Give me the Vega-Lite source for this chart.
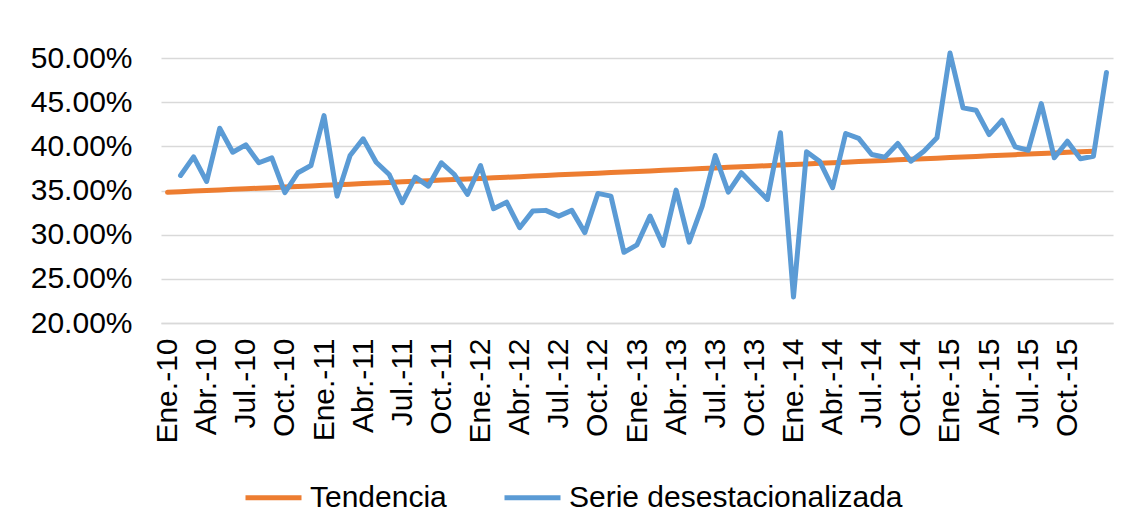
{
  "$schema": "https://vega.github.io/schema/vega-lite/v6.json",
  "width": 952,
  "height": 265,
  "autosize": {"type": "none"},
  "padding": {"left": 161, "top": 58, "right": 21, "bottom": 208},
  "background": "white",
  "datasets": {
    "tendencia": [
      {"m": "Ene.-10", "s": "Tendencia", "v": 0.3480}, {"m": "Feb.-10", "s": "Tendencia", "v": 0.3487}, {"m": "Mar.-10", "s": "Tendencia", "v": 0.3493},
      {"m": "Abr.-10", "s": "Tendencia", "v": 0.3500}, {"m": "May.-10", "s": "Tendencia", "v": 0.3506}, {"m": "Jun.-10", "s": "Tendencia", "v": 0.3513},
      {"m": "Jul.-10", "s": "Tendencia", "v": 0.3519}, {"m": "Ago.-10", "s": "Tendencia", "v": 0.3526}, {"m": "Sep.-10", "s": "Tendencia", "v": 0.3532},
      {"m": "Oct.-10", "s": "Tendencia", "v": 0.3539}, {"m": "Nov.-10", "s": "Tendencia", "v": 0.3546}, {"m": "Dic.-10", "s": "Tendencia", "v": 0.3552},
      {"m": "Ene.-11", "s": "Tendencia", "v": 0.3559}, {"m": "Feb.-11", "s": "Tendencia", "v": 0.3565}, {"m": "Mar.-11", "s": "Tendencia", "v": 0.3572},
      {"m": "Abr.-11", "s": "Tendencia", "v": 0.3578}, {"m": "May.-11", "s": "Tendencia", "v": 0.3585}, {"m": "Jun.-11", "s": "Tendencia", "v": 0.3591},
      {"m": "Jul.-11", "s": "Tendencia", "v": 0.3598}, {"m": "Ago.-11", "s": "Tendencia", "v": 0.3604}, {"m": "Sep.-11", "s": "Tendencia", "v": 0.3611},
      {"m": "Oct.-11", "s": "Tendencia", "v": 0.3618}, {"m": "Nov.-11", "s": "Tendencia", "v": 0.3624}, {"m": "Dic.-11", "s": "Tendencia", "v": 0.3631},
      {"m": "Ene.-12", "s": "Tendencia", "v": 0.3637}, {"m": "Feb.-12", "s": "Tendencia", "v": 0.3644}, {"m": "Mar.-12", "s": "Tendencia", "v": 0.3650},
      {"m": "Abr.-12", "s": "Tendencia", "v": 0.3657}, {"m": "May.-12", "s": "Tendencia", "v": 0.3663}, {"m": "Jun.-12", "s": "Tendencia", "v": 0.3670},
      {"m": "Jul.-12", "s": "Tendencia", "v": 0.3677}, {"m": "Ago.-12", "s": "Tendencia", "v": 0.3683}, {"m": "Sep.-12", "s": "Tendencia", "v": 0.3690},
      {"m": "Oct.-12", "s": "Tendencia", "v": 0.3696}, {"m": "Nov.-12", "s": "Tendencia", "v": 0.3703}, {"m": "Dic.-12", "s": "Tendencia", "v": 0.3709},
      {"m": "Ene.-13", "s": "Tendencia", "v": 0.3716}, {"m": "Feb.-13", "s": "Tendencia", "v": 0.3722}, {"m": "Mar.-13", "s": "Tendencia", "v": 0.3729},
      {"m": "Abr.-13", "s": "Tendencia", "v": 0.3735}, {"m": "May.-13", "s": "Tendencia", "v": 0.3742}, {"m": "Jun.-13", "s": "Tendencia", "v": 0.3749},
      {"m": "Jul.-13", "s": "Tendencia", "v": 0.3755}, {"m": "Ago.-13", "s": "Tendencia", "v": 0.3762}, {"m": "Sep.-13", "s": "Tendencia", "v": 0.3768},
      {"m": "Oct.-13", "s": "Tendencia", "v": 0.3775}, {"m": "Nov.-13", "s": "Tendencia", "v": 0.3781}, {"m": "Dic.-13", "s": "Tendencia", "v": 0.3788},
      {"m": "Ene.-14", "s": "Tendencia", "v": 0.3794}, {"m": "Feb.-14", "s": "Tendencia", "v": 0.3801}, {"m": "Mar.-14", "s": "Tendencia", "v": 0.3808},
      {"m": "Abr.-14", "s": "Tendencia", "v": 0.3814}, {"m": "May.-14", "s": "Tendencia", "v": 0.3821}, {"m": "Jun.-14", "s": "Tendencia", "v": 0.3827},
      {"m": "Jul.-14", "s": "Tendencia", "v": 0.3834}, {"m": "Ago.-14", "s": "Tendencia", "v": 0.3840}, {"m": "Sep.-14", "s": "Tendencia", "v": 0.3847},
      {"m": "Oct.-14", "s": "Tendencia", "v": 0.3853}, {"m": "Nov.-14", "s": "Tendencia", "v": 0.3860}, {"m": "Dic.-14", "s": "Tendencia", "v": 0.3866},
      {"m": "Ene.-15", "s": "Tendencia", "v": 0.3873}, {"m": "Feb.-15", "s": "Tendencia", "v": 0.3880}, {"m": "Mar.-15", "s": "Tendencia", "v": 0.3886},
      {"m": "Abr.-15", "s": "Tendencia", "v": 0.3893}, {"m": "May.-15", "s": "Tendencia", "v": 0.3899}, {"m": "Jun.-15", "s": "Tendencia", "v": 0.3906},
      {"m": "Jul.-15", "s": "Tendencia", "v": 0.3912}, {"m": "Ago.-15", "s": "Tendencia", "v": 0.3919}, {"m": "Sep.-15", "s": "Tendencia", "v": 0.3925},
      {"m": "Oct.-15", "s": "Tendencia", "v": 0.3932}, {"m": "Nov.-15", "s": "Tendencia", "v": 0.3939}, {"m": "Dic.-15", "s": "Tendencia", "v": 0.3945}
    ],
    "serie": [
      {"m": "Feb.-10", "s": "Serie desestacionalizada", "v": 0.3670}, {"m": "Mar.-10", "s": "Serie desestacionalizada", "v": 0.3881},
      {"m": "Abr.-10", "s": "Serie desestacionalizada", "v": 0.3602}, {"m": "May.-10", "s": "Serie desestacionalizada", "v": 0.4205},
      {"m": "Jun.-10", "s": "Serie desestacionalizada", "v": 0.3933}, {"m": "Jul.-10", "s": "Serie desestacionalizada", "v": 0.4017},
      {"m": "Ago.-10", "s": "Serie desestacionalizada", "v": 0.3814}, {"m": "Sep.-10", "s": "Serie desestacionalizada", "v": 0.3870},
      {"m": "Oct.-10", "s": "Serie desestacionalizada", "v": 0.3475}, {"m": "Nov.-10", "s": "Serie desestacionalizada", "v": 0.3701},
      {"m": "Dic.-10", "s": "Serie desestacionalizada", "v": 0.3783}, {"m": "Ene.-11", "s": "Serie desestacionalizada", "v": 0.4348},
      {"m": "Feb.-11", "s": "Serie desestacionalizada", "v": 0.3436}, {"m": "Mar.-11", "s": "Serie desestacionalizada", "v": 0.3896},
      {"m": "Abr.-11", "s": "Serie desestacionalizada", "v": 0.4085}, {"m": "May.-11", "s": "Serie desestacionalizada", "v": 0.3820},
      {"m": "Jun.-11", "s": "Serie desestacionalizada", "v": 0.3681}, {"m": "Jul.-11", "s": "Serie desestacionalizada", "v": 0.3362},
      {"m": "Ago.-11", "s": "Serie desestacionalizada", "v": 0.3651}, {"m": "Sep.-11", "s": "Serie desestacionalizada", "v": 0.3549},
      {"m": "Oct.-11", "s": "Serie desestacionalizada", "v": 0.3814}, {"m": "Nov.-11", "s": "Serie desestacionalizada", "v": 0.3681},
      {"m": "Dic.-11", "s": "Serie desestacionalizada", "v": 0.3455}, {"m": "Ene.-12", "s": "Serie desestacionalizada", "v": 0.3783},
      {"m": "Feb.-12", "s": "Serie desestacionalizada", "v": 0.3294}, {"m": "Mar.-12", "s": "Serie desestacionalizada", "v": 0.3368},
      {"m": "Abr.-12", "s": "Serie desestacionalizada", "v": 0.3079}, {"m": "May.-12", "s": "Serie desestacionalizada", "v": 0.3267},
      {"m": "Jun.-12", "s": "Serie desestacionalizada", "v": 0.3275}, {"m": "Jul.-12", "s": "Serie desestacionalizada", "v": 0.3210},
      {"m": "Ago.-12", "s": "Serie desestacionalizada", "v": 0.3275}, {"m": "Sep.-12", "s": "Serie desestacionalizada", "v": 0.3023},
      {"m": "Oct.-12", "s": "Serie desestacionalizada", "v": 0.3467}, {"m": "Nov.-12", "s": "Serie desestacionalizada", "v": 0.3436},
      {"m": "Dic.-12", "s": "Serie desestacionalizada", "v": 0.2800}, {"m": "Ene.-13", "s": "Serie desestacionalizada", "v": 0.2885},
      {"m": "Feb.-13", "s": "Serie desestacionalizada", "v": 0.3210}, {"m": "Mar.-13", "s": "Serie desestacionalizada", "v": 0.2879},
      {"m": "Abr.-13", "s": "Serie desestacionalizada", "v": 0.3504}, {"m": "May.-13", "s": "Serie desestacionalizada", "v": 0.2916},
      {"m": "Jun.-13", "s": "Serie desestacionalizada", "v": 0.3323}, {"m": "Jul.-13", "s": "Serie desestacionalizada", "v": 0.3896},
      {"m": "Ago.-13", "s": "Serie desestacionalizada", "v": 0.3481}, {"m": "Sep.-13", "s": "Serie desestacionalizada", "v": 0.3701},
      {"m": "Oct.-13", "s": "Serie desestacionalizada", "v": 0.3549}, {"m": "Nov.-13", "s": "Serie desestacionalizada", "v": 0.3399},
      {"m": "Dic.-13", "s": "Serie desestacionalizada", "v": 0.4153}, {"m": "Ene.-14", "s": "Serie desestacionalizada", "v": 0.2295},
      {"m": "Feb.-14", "s": "Serie desestacionalizada", "v": 0.3938}, {"m": "Mar.-14", "s": "Serie desestacionalizada", "v": 0.3832},
      {"m": "Abr.-14", "s": "Serie desestacionalizada", "v": 0.3531}, {"m": "May.-14", "s": "Serie desestacionalizada", "v": 0.4145},
      {"m": "Jun.-14", "s": "Serie desestacionalizada", "v": 0.4090}, {"m": "Jul.-14", "s": "Serie desestacionalizada", "v": 0.3907},
      {"m": "Ago.-14", "s": "Serie desestacionalizada", "v": 0.3877}, {"m": "Sep.-14", "s": "Serie desestacionalizada", "v": 0.4032},
      {"m": "Oct.-14", "s": "Serie desestacionalizada", "v": 0.3832}, {"m": "Nov.-14", "s": "Serie desestacionalizada", "v": 0.3945},
      {"m": "Dic.-14", "s": "Serie desestacionalizada", "v": 0.4096}, {"m": "Ene.-15", "s": "Serie desestacionalizada", "v": 0.5056},
      {"m": "Feb.-15", "s": "Serie desestacionalizada", "v": 0.4435}, {"m": "Mar.-15", "s": "Serie desestacionalizada", "v": 0.4408},
      {"m": "Abr.-15", "s": "Serie desestacionalizada", "v": 0.4133}, {"m": "May.-15", "s": "Serie desestacionalizada", "v": 0.4295},
      {"m": "Jun.-15", "s": "Serie desestacionalizada", "v": 0.3994}, {"m": "Jul.-15", "s": "Serie desestacionalizada", "v": 0.3956},
      {"m": "Ago.-15", "s": "Serie desestacionalizada", "v": 0.4484}, {"m": "Sep.-15", "s": "Serie desestacionalizada", "v": 0.3870},
      {"m": "Oct.-15", "s": "Serie desestacionalizada", "v": 0.4058}, {"m": "Nov.-15", "s": "Serie desestacionalizada", "v": 0.3859},
      {"m": "Dic.-15", "s": "Serie desestacionalizada", "v": 0.3888}, {"m": "Ene.-16", "s": "Serie desestacionalizada", "v": 0.4837}
    ]
  },
  "encoding": {
    "x": {
      "field": "m",
      "type": "ordinal",
      "title": null,
      "scale": {
        "type": "point",
        "padding": 0.5,
        "domain": [
          "Ene.-10", "Feb.-10", "Mar.-10", "Abr.-10", "May.-10", "Jun.-10", "Jul.-10", "Ago.-10", "Sep.-10", "Oct.-10", "Nov.-10", "Dic.-10",
          "Ene.-11", "Feb.-11", "Mar.-11", "Abr.-11", "May.-11", "Jun.-11", "Jul.-11", "Ago.-11", "Sep.-11", "Oct.-11", "Nov.-11", "Dic.-11",
          "Ene.-12", "Feb.-12", "Mar.-12", "Abr.-12", "May.-12", "Jun.-12", "Jul.-12", "Ago.-12", "Sep.-12", "Oct.-12", "Nov.-12", "Dic.-12",
          "Ene.-13", "Feb.-13", "Mar.-13", "Abr.-13", "May.-13", "Jun.-13", "Jul.-13", "Ago.-13", "Sep.-13", "Oct.-13", "Nov.-13", "Dic.-13",
          "Ene.-14", "Feb.-14", "Mar.-14", "Abr.-14", "May.-14", "Jun.-14", "Jul.-14", "Ago.-14", "Sep.-14", "Oct.-14", "Nov.-14", "Dic.-14",
          "Ene.-15", "Feb.-15", "Mar.-15", "Abr.-15", "May.-15", "Jun.-15", "Jul.-15", "Ago.-15", "Sep.-15", "Oct.-15", "Nov.-15", "Dic.-15",
          "Ene.-16"
        ]
      },
      "axis": {
        "values": [
          "Ene.-10", "Abr.-10", "Jul.-10", "Oct.-10", "Ene.-11", "Abr.-11", "Jul.-11", "Oct.-11",
          "Ene.-12", "Abr.-12", "Jul.-12", "Oct.-12", "Ene.-13", "Abr.-13", "Jul.-13", "Oct.-13",
          "Ene.-14", "Abr.-14", "Jul.-14", "Oct.-14", "Ene.-15", "Abr.-15", "Jul.-15", "Oct.-15"
        ],
        "labelAngle": -90,
        "labelAlign": "right",
        "labelBaseline": "middle",
        "labelPadding": 15,
        "labelFontSize": 30,
        "labelColor": "#000000",
        "labelOverlap": false,
        "ticks": false,
        "grid": false,
        "domain": true,
        "domainColor": "#d9d9d9",
        "domainWidth": 1.5
      }
    },
    "y": {
      "field": "v",
      "type": "quantitative",
      "title": null,
      "scale": {"domain": [0.2, 0.5], "nice": false, "zero": false},
      "axis": {
        "values": [0.2, 0.25, 0.3, 0.35, 0.4, 0.45, 0.5],
        "format": ".2%",
        "labelFontSize": 30,
        "labelColor": "#000000",
        "labelPadding": 29,
        "ticks": false,
        "domain": false,
        "grid": true,
        "gridColor": "#d9d9d9",
        "gridWidth": 1.5
      }
    },
    "color": {
      "field": "s",
      "type": "nominal",
      "scale": {
        "domain": ["Tendencia", "Serie desestacionalizada"],
        "range": ["#ED7D31", "#5B9BD5"]
      },
      "legend": {
        "title": null,
        "orient": "none",
        "legendX": 82,
        "legendY": 409,
        "direction": "horizontal",
        "symbolType": "stroke",
        "symbolSize": 3136,
        "symbolStrokeWidth": 5,
        "labelFontSize": 30,
        "labelColor": "#000000",
        "labelOffset": 6,
        "labelLimit": 0,
        "columnPadding": 47
      }
    }
  },
  "layer": [
    {
      "data": {"name": "tendencia"},
      "mark": {"type": "line", "strokeWidth": 5, "strokeCap": "round", "strokeJoin": "round"}
    },
    {
      "data": {"name": "serie"},
      "mark": {"type": "line", "strokeWidth": 5, "strokeCap": "round", "strokeJoin": "round"}
    }
  ],
  "config": {
    "font": "Liberation Sans",
    "view": {"stroke": null}
  }
}
